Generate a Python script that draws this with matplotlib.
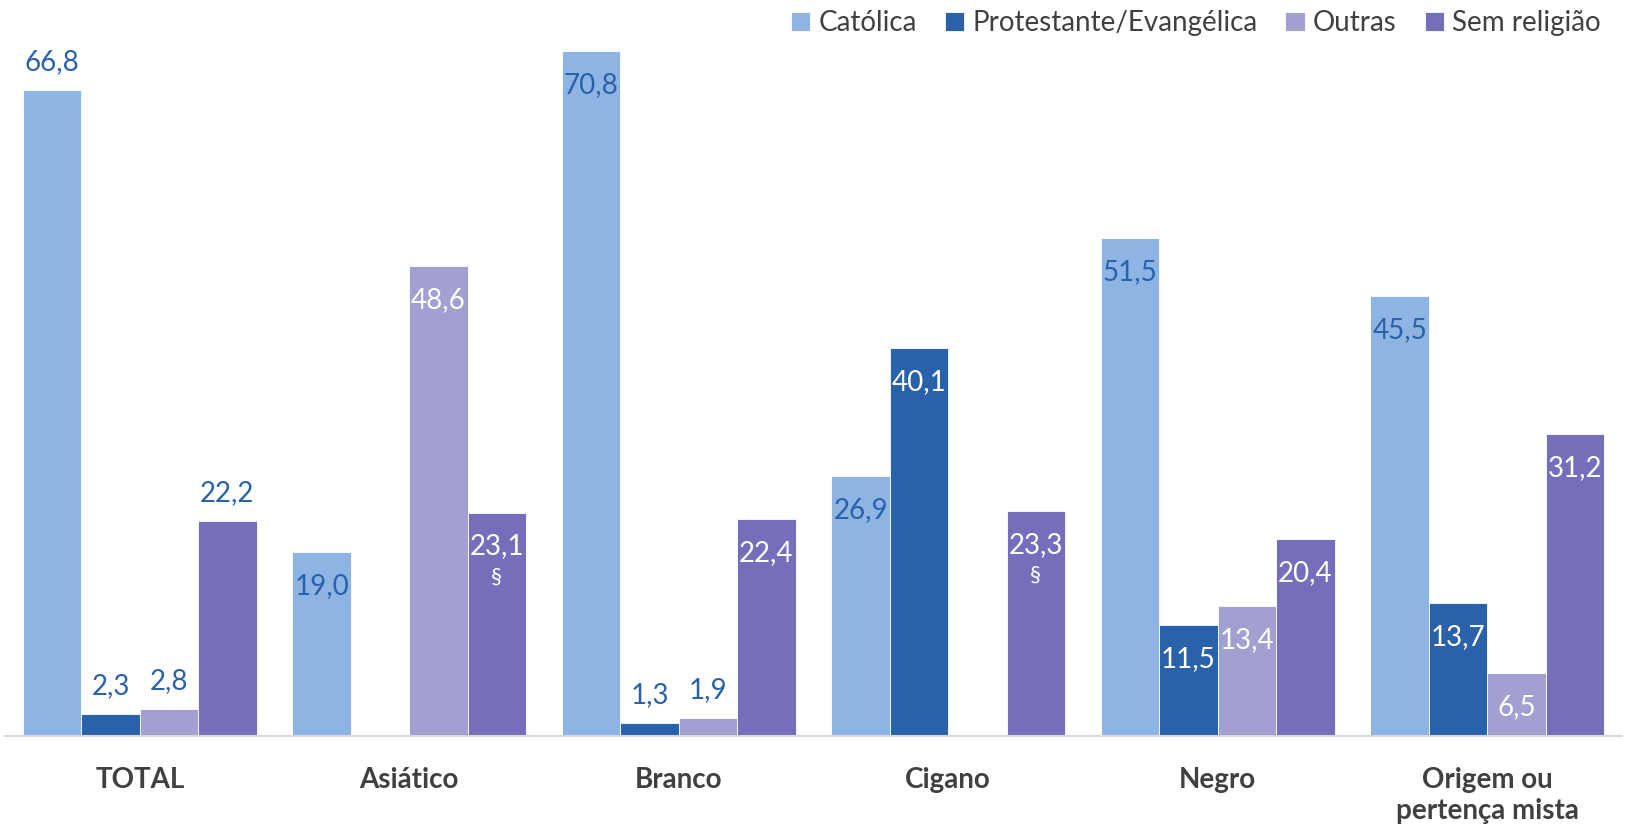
import numpy as np
import matplotlib.pyplot as plt

# dados (%)
categorias = ["TOTAL", "Asiático", "Branco", "Cigano", "Negro", "Origem ou\npertença mista"]
series = ["Católica", "Protestante/Evangélica", "Outras", "Sem religião"]
catolica = [66.8, 19.0, 70.8, 26.9, 51.5, 45.5]
protestante = [2.3, np.nan, 1.3, 40.1, 11.5, 13.7]
outras = [2.8, 48.6, 1.9, np.nan, 13.4, 6.5]
sem_religiao = [22.2, 23.1, 22.4, 23.3, 20.4, 31.2]
# rótulos fora da barra (True) ou dentro (False)
fora = [
    [True, False, False, False, False, False],
    [True, False, True, False, False, False],
    [True, False, True, False, False, False],
    [True, False, False, False, False, False],
]
# marca § (pequena amostra)
marca = [[], [], [], [1, 3]]

cores = ["#8EB4E3", "#2962AA", "#A29FD1", "#756EBA"]
cor_rotulo_dentro = ["#2962AA", "white", "white", "white"]
cor_azul = "#2962AA"

plt.rcParams['font.family'] = ['Lato', 'DejaVu Sans']

fig = plt.figure(figsize=(16.26, 8.34), dpi=100)
ax = fig.add_axes([5 / 1626, 98 / 834, 1617 / 1626, 0.870])

valores = [catolica, protestante, outras, sem_religiao]
x = np.arange(len(categorias))
w = 0.2167

for i, (nome, vals) in enumerate(zip(series, valores)):
    pos = x + (i - 1.5) * w
    ax.bar(pos, vals, w, color=cores[i], label=nome, edgecolor="white", linewidth=0.6)
    for j, v in enumerate(vals):
        if np.isnan(v):
            continue
        txt = f"{v:.1f}".replace(".", ",")
        if fora[i][j]:
            ax.annotate(txt, (pos[j], v), xytext=(0, 28), textcoords="offset pixels",
                        ha="center", va="center", fontsize=20, color=cor_azul)
        else:
            ax.annotate(txt, (pos[j], v), xytext=(0, -34), textcoords="offset pixels",
                        ha="center", va="center", fontsize=20, color=cor_rotulo_dentro[i])
            if j in marca[i]:
                ax.annotate("§", (pos[j], v), xytext=(0, -64), textcoords="offset pixels",
                            ha="center", va="center", fontsize=16, color="white")

ax.set_xlim(-0.5, len(categorias) - 0.5)
ax.set_ylim(0, 75)
ax.set_yticks([])
ax.set_xticks(x)
ax.set_xticklabels(categorias, fontsize=20, fontweight="bold", color="#404040",
                   linespacing=1.25, va="top")
ax.tick_params(axis="x", length=0, pad=22)
for s in ["top", "right", "left"]:
    ax.spines[s].set_visible(False)
ax.spines["bottom"].set_color("#D9D9D9")
ax.spines["bottom"].set_linewidth(1.5)

fig.legend(loc="upper right", bbox_to_anchor=(1.0, 1.018), ncol=4, frameon=False,
           fontsize=20, handlelength=0.7, handleheight=0.7, handletextpad=0.3,
           columnspacing=1.0, labelcolor="#404040")

fig.savefig("out.png", dpi=100)
